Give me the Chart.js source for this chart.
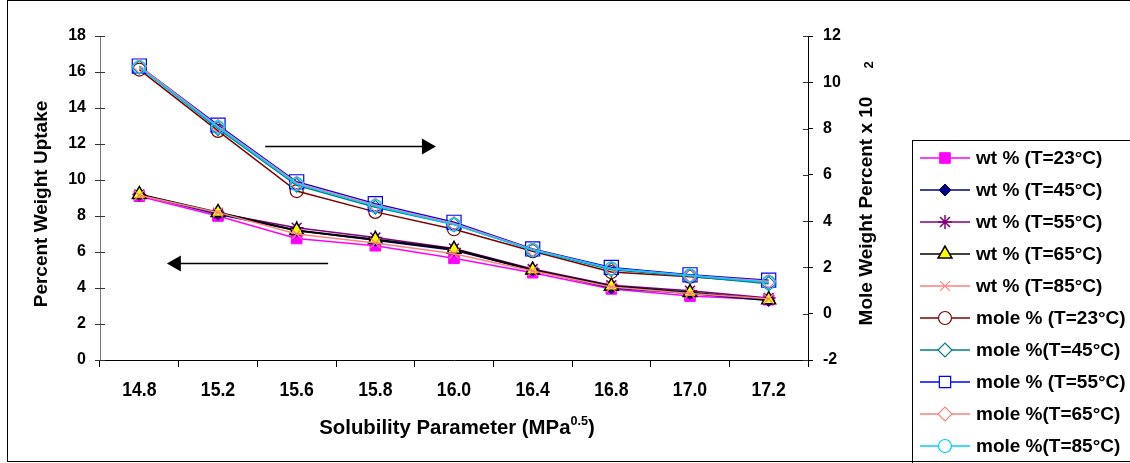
<!DOCTYPE html>
<html>
<head>
<meta charset="utf-8">
<script src="https://cdn.jsdelivr.net/npm/chart.js@4.4.0/dist/chart.umd.min.js"></script>
<style>
  html, body { margin: 0; padding: 0; background: #fff; }
  #wrap { width: 1130px; height: 463px; }
</style>
</head>
<body>
<div id="wrap"><canvas id="solChart" width="1130" height="463"></canvas></div>
<script>
// solubility parameter categories (MPa^0.5)
const solubility = ['14.8', '15.2', '15.6', '15.8', '16.0', '16.4', '16.8', '17.0', '17.2'];

// percent weight uptake (left axis)
const wt23 = [9.1, 8.0, 6.75, 6.35, 5.65, 4.85, 3.95, 3.55, 3.35];
const wt45 = [9.2, 8.1, 7.2, 6.65, 6.1, 5.0, 4.0, 3.7, 3.3];
const wt55 = [9.2, 8.15, 7.35, 6.8, 6.2, 5.05, 4.15, 3.85, 3.45];
const wt65 = [9.2, 8.2, 7.2, 6.7, 6.15, 5.0, 4.1, 3.75, 3.35];
const wt85 = [9.15, 8.2, 7.0, 6.5, 5.9, 4.95, 4.05, 3.7, 3.4];

// mole weight percent x 10^2 (right axis)
const mole23 = [10.55, 7.9, 5.3, 4.4, 3.65, 2.7, 1.8, 1.6, 1.35];
const mole45 = [10.65, 8.0, 5.55, 4.6, 3.85, 2.75, 1.9, 1.62, 1.3];
const mole55 = [10.7, 8.15, 5.7, 4.75, 3.95, 2.8, 2.0, 1.68, 1.45];
const mole65 = [10.7, 8.1, 5.65, 4.7, 3.9, 2.78, 1.95, 1.65, 1.4];
const mole85 = [10.65, 8.05, 5.6, 4.65, 3.85, 2.75, 1.95, 1.65, 1.35];

const seriesNames = ['wt % (T=23°C)', 'wt % (T=45°C)', 'wt % (T=55°C)', 'wt % (T=65°C)', 'wt % (T=85°C)',
  'mole % (T=23°C)', 'mole %(T=45°C)', 'mole % (T=55°C)', 'mole %(T=65°C)', 'mole %(T=85°C)'];

const leftTicks = [0, 18, 2];   // min, max, step
const rightTicks = [-2, 12, 2];

const BOLD = '"Liberation Sans", Arial, sans-serif';

// look of each series, same order as seriesNames
const looks = [
  {data: wt23, axis: 'y',  line: '#ff00ff', fill: '#ff00ff', mark: 'rect', r: 7.5, bw: 1},
  {data: wt45, axis: 'y',  line: '#000080', fill: '#000080', mark: 'rectRot', r: 6, bw: 1},
  {data: wt55, axis: 'y',  line: '#800080', fill: '#800080', mark: 'star', r: 7, bw: 1.5},
  {data: wt65, axis: 'y',  line: '#000000', fill: '#ffff00', mark: 'triangle', r: 8, bw: 1.5},
  {data: wt85, axis: 'y',  line: '#ff8080', fill: '#ff8080', mark: 'crossRot', r: 7, bw: 1.2},
  {data: mole23, axis: 'y1', line: '#800000', fill: 'rgba(0,0,0,0)', mark: 'circle', r: 6.5, bw: 1.2},
  {data: mole45, axis: 'y1', line: '#008080', fill: 'rgba(0,0,0,0)', mark: 'rectRot', r: 7, bw: 1.2},
  {data: mole55, axis: 'y1', line: '#0000ff', fill: 'rgba(0,0,0,0)', mark: 'rect', r: 10, bw: 1.2},
  {data: mole65, axis: 'y1', line: '#ff8080', fill: 'rgba(0,0,0,0)', mark: 'rectRot', r: 7, bw: 1.2},
  {data: mole85, axis: 'y1', line: '#00ccff', fill: 'rgba(0,0,0,0)', mark: 'circle', r: 6.5, bw: 1.2}
];

const datasets = looks.map((s, i) => ({
  label: seriesNames[i],
  data: s.data,
  yAxisID: s.axis,
  borderColor: s.line,
  borderWidth: i === 3 ? 2 : 1.5,
  backgroundColor: s.fill,
  pointStyle: s.mark,
  pointRadius: s.r,
  pointBorderColor: s.line,
  pointBackgroundColor: s.fill,
  pointBorderWidth: s.bw,
  tension: 0,
  order: 10 - i
}));

// arrows: category index from -> to, at a value of the left axis
const arrows = [
  {from: 1.6, to: 3.77, y: 11.9},
  {from: 2.4, to: 0.35, y: 5.4}
];

function arrow(ctx, x1, x2, y) {
  const dir = Math.sign(x2 - x1);
  ctx.strokeStyle = '#000';
  ctx.lineWidth = 1.6;
  ctx.beginPath();
  ctx.moveTo(x1, y);
  ctx.lineTo(x2 - dir * 12, y);
  ctx.stroke();
  ctx.fillStyle = '#000';
  ctx.beginPath();
  ctx.moveTo(x2, y);
  ctx.lineTo(x2 - dir * 14, y - 8);
  ctx.lineTo(x2 - dir * 14, y + 8);
  ctx.closePath();
  ctx.fill();
}

const decor = {
  id: 'decor',
  afterDraw(chart) {
    const ctx = chart.ctx;
    const a = chart.chartArea;
    const xs = chart.scales.x, yl = chart.scales.y, yr = chart.scales.y1;
    ctx.save();

    // outer frame
    ctx.strokeStyle = '#000';
    ctx.lineWidth = 1;
    ctx.strokeRect(7.5, 0.5, 1200, 461);

    // inner halves of tick marks
    ctx.strokeStyle = '#333';
    ctx.beginPath();
    yl.ticks.forEach((t, i) => {
      const y = Math.round(yl.getPixelForTick(i)) + 0.5;
      ctx.moveTo(a.left, y); ctx.lineTo(a.left + 5, y);
    });
    yr.ticks.forEach((t, i) => {
      const y = Math.round(yr.getPixelForTick(i)) + 0.5;
      ctx.moveTo(a.right - 5, y); ctx.lineTo(a.right, y);
    });
    ctx.stroke();

    // x tick labels, a bit condensed like the original
    ctx.fillStyle = '#000';
    ctx.font = 'bold 21px ' + BOLD;
    ctx.textAlign = 'center';
    ctx.textBaseline = 'middle';
    solubility.forEach((lab, i) => {
      ctx.save();
      ctx.translate(xs.getPixelForValue(i), 390);
      ctx.scale(0.84, 1);
      ctx.fillText(lab, 0, 0);
      ctx.restore();
    });

    // axis titles
    ctx.font = 'bold 19px ' + BOLD;
    ctx.save();
    ctx.translate(42, (a.top + a.bottom) / 2 + 6);
    ctx.rotate(-Math.PI / 2);
    ctx.fillText('Percent Weight Uptake', 0, 0);
    ctx.restore();

    ctx.save();
    ctx.translate(867, 211);
    ctx.rotate(-Math.PI / 2);
    ctx.fillText('Mole Weight Percent x 10', 0, 0);
    ctx.font = 'bold 13px ' + BOLD;
    ctx.fillText('2', 146, 2);
    ctx.restore();

    // x title with superscript
    const main = 'Solubility Parameter (MPa', sup = '0.5', tail = ')';
    ctx.save();
    ctx.translate((a.left + a.right) / 2 + 3, 434);
    ctx.scale(0.97, 1);
    ctx.font = 'bold 21px ' + BOLD;
    const w1 = ctx.measureText(main).width, w3 = ctx.measureText(tail).width;
    ctx.font = 'bold 13px ' + BOLD;
    const w2 = ctx.measureText(sup).width;
    let x = -(w1 + w2 + w3) / 2;
    ctx.textAlign = 'left';
    ctx.textBaseline = 'alphabetic';
    ctx.font = 'bold 21px ' + BOLD;
    ctx.fillText(main, x, 0);
    ctx.font = 'bold 13px ' + BOLD;
    ctx.fillText(sup, x + w1, -9);
    ctx.font = 'bold 21px ' + BOLD;
    ctx.fillText(tail, x + w1 + w2, 0);
    ctx.restore();

    // arrows
    arrows.forEach(ar => arrow(ctx, xs.getPixelForValue(ar.from), xs.getPixelForValue(ar.to), Math.round(yl.getPixelForValue(ar.y)) + 0.5));

    // legend
    ctx.strokeStyle = '#000';
    ctx.lineWidth = 1;
    ctx.strokeRect(912.5, 140.5, 300, 400);
    ctx.font = 'bold 19px ' + BOLD;
    ctx.textAlign = 'left';
    ctx.textBaseline = 'middle';
    chart.data.datasets.forEach((ds, i) => {
      const y = 158 + i * 32;
      ctx.strokeStyle = ds.borderColor;
      ctx.lineWidth = 1.5;
      ctx.beginPath();
      ctx.moveTo(920, y); ctx.lineTo(970, y);
      ctx.stroke();
      ctx.fillStyle = ds.pointBackgroundColor === 'rgba(0,0,0,0)' ? '#fff' : ds.pointBackgroundColor;
      ctx.strokeStyle = ds.pointBorderColor;
      ctx.lineWidth = ds.pointBorderWidth;
      Chart.helpers.drawPoint(ctx, {pointStyle: ds.pointStyle, radius: Math.min(ds.pointRadius, 8), rotation: 0, borderWidth: ds.pointBorderWidth}, 945, y);
      ctx.fillStyle = '#000';
      ctx.fillText(ds.label, 976, y + 1);
    });
    ctx.restore();
  }
};

new Chart(document.getElementById('solChart'), {
  type: 'line',
  data: {labels: solubility, datasets: datasets},
  options: {
    responsive: false,
    animation: false,
    layout: {padding: {top: 36, left: 0, right: 0, bottom: 0}},
    plugins: {legend: {display: false}, tooltip: {enabled: false}},
    scales: {
      x: {
        offset: true,
        grid: {offset: true, drawOnChartArea: false, color: '#000', tickLength: 7},
        border: {color: '#000'},
        ticks: {display: false},
        afterFit: s => { s.height = 103; }
      },
      y: {
        position: 'left',
        min: leftTicks[0], max: leftTicks[1],
        grid: {drawOnChartArea: false, color: '#333', tickLength: 5},
        border: {color: '#777'},
        ticks: {stepSize: leftTicks[2], color: '#000', font: {family: BOLD, size: 16, weight: 'bold'}, padding: 9},
        afterFit: s => { s.width = 100; }
      },
      y1: {
        position: 'right',
        min: rightTicks[0], max: rightTicks[1],
        grid: {drawOnChartArea: false, color: '#000', tickLength: 5},
        border: {color: '#000'},
        ticks: {stepSize: rightTicks[2], color: '#000', font: {family: BOLD, size: 16, weight: 'bold'}, padding: 10},
        afterFit: s => { s.width = 322; }
      }
    }
  },
  plugins: [decor]
});
</script>
</body>
</html>
